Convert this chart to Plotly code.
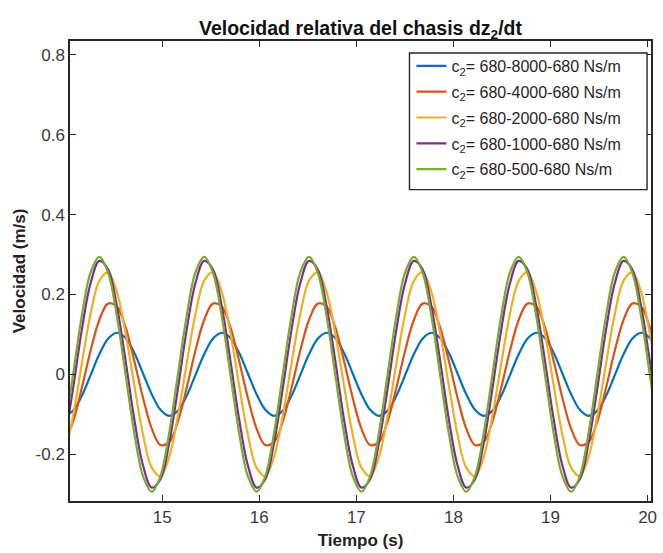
import plotly.graph_objects as go

# Sampling instants (s)
tiempo = [13.992, 14.082, 14.172, 14.262, 14.352, 14.442, 14.532, 14.622, 14.712, 14.802,
          14.892, 14.982, 15.072, 15.162, 15.252, 15.342, 15.432, 15.522, 15.612, 15.702,
          15.792, 15.882, 15.972, 16.062, 16.152, 16.242, 16.332, 16.422, 16.512, 16.602,
          16.692, 16.782, 16.872, 16.962, 17.052, 17.142, 17.232, 17.322, 17.412, 17.502,
          17.592, 17.682, 17.772, 17.862, 17.952, 18.042, 18.132, 18.222, 18.312, 18.402,
          18.492, 18.582, 18.672, 18.762, 18.852, 18.942, 19.032, 19.122, 19.212, 19.302,
          19.392, 19.482, 19.572, 19.662, 19.752, 19.842, 19.932, 20.022, 20.112]

# Chassis relative velocity (m/s) for each damping configuration
v_8000 = [-0.104, -0.091, -0.054, -0.002,
          0.050, 0.089, 0.104, 0.091, 0.054, 0.002, -0.050, -0.089, -0.104, -0.091, -0.054, -0.002,
          0.050, 0.089, 0.104, 0.091, 0.054, 0.002, -0.050, -0.089, -0.104, -0.091, -0.054, -0.002,
          0.050, 0.089, 0.104, 0.091, 0.054, 0.002, -0.050, -0.089, -0.104, -0.091, -0.054, -0.002,
          0.050, 0.089, 0.104, 0.091, 0.054, 0.002, -0.050, -0.089, -0.104, -0.091, -0.054, -0.002,
          0.050, 0.089, 0.104, 0.091, 0.054, 0.002, -0.050, -0.089, -0.104, -0.091, -0.054, -0.002,
          0.050, 0.089, 0.104, 0.091, 0.054]
v_4000 = [-0.170, -0.118, -0.034, 0.059,
          0.136, 0.177, 0.170, 0.118, 0.034, -0.059, -0.136, -0.177, -0.170, -0.118, -0.034, 0.059,
          0.136, 0.177, 0.170, 0.118, 0.034, -0.059, -0.136, -0.177, -0.170, -0.118, -0.034, 0.059,
          0.136, 0.177, 0.170, 0.118, 0.034, -0.059, -0.136, -0.177, -0.170, -0.118, -0.034, 0.059,
          0.136, 0.177, 0.170, 0.118, 0.034, -0.059, -0.136, -0.177, -0.170, -0.118, -0.034, 0.059,
          0.136, 0.177, 0.170, 0.118, 0.034, -0.059, -0.136, -0.177, -0.170, -0.118, -0.034, 0.059,
          0.136, 0.177, 0.170, 0.118, 0.034]
v_2000 = [-0.207, -0.104, 0.027, 0.151,
          0.234, 0.255, 0.207, 0.104, -0.027, -0.151, -0.234, -0.255, -0.207, -0.104, 0.027, 0.151,
          0.234, 0.255, 0.207, 0.104, -0.027, -0.151, -0.234, -0.255, -0.207, -0.104, 0.027, 0.151,
          0.234, 0.255, 0.207, 0.104, -0.027, -0.151, -0.234, -0.255, -0.207, -0.104, 0.027, 0.151,
          0.234, 0.255, 0.207, 0.104, -0.027, -0.151, -0.234, -0.255, -0.207, -0.104, 0.027, 0.151,
          0.234, 0.255, 0.207, 0.104, -0.027, -0.151, -0.234, -0.255, -0.207, -0.104, 0.027, 0.151,
          0.234, 0.255, 0.207, 0.104, -0.027]
v_1000 = [-0.172, -0.035, 0.112, 0.228,
          0.284, 0.263, 0.172, 0.035, -0.112, -0.228, -0.284, -0.263, -0.172, -0.035, 0.112, 0.228,
          0.284, 0.263, 0.172, 0.035, -0.112, -0.228, -0.284, -0.263, -0.172, -0.035, 0.112, 0.228,
          0.284, 0.263, 0.172, 0.035, -0.112, -0.228, -0.284, -0.263, -0.172, -0.035, 0.112, 0.228,
          0.284, 0.263, 0.172, 0.035, -0.112, -0.228, -0.284, -0.263, -0.172, -0.035, 0.112, 0.228,
          0.284, 0.263, 0.172, 0.035, -0.112, -0.228, -0.284, -0.263, -0.172, -0.035, 0.112, 0.228,
          0.284, 0.263, 0.172, 0.035, -0.112]
v_500 = [-0.147, 0.000, 0.147, 0.255,
         0.294, 0.255, 0.147, 0.000, -0.147, -0.255, -0.294, -0.255, -0.147, 0.000, 0.147, 0.255,
         0.294, 0.255, 0.147, 0.000, -0.147, -0.255, -0.294, -0.255, -0.147, 0.000, 0.147, 0.255,
         0.294, 0.255, 0.147, 0.000, -0.147, -0.255, -0.294, -0.255, -0.147, 0.000, 0.147, 0.255,
         0.294, 0.255, 0.147, 0.000, -0.147, -0.255, -0.294, -0.255, -0.147, 0.000, 0.147, 0.255,
         0.294, 0.255, 0.147, 0.000, -0.147, -0.255, -0.294, -0.255, -0.147, 0.000, 0.147, 0.255,
         0.294, 0.255, 0.147, 0.000, -0.147]

series_labels = ["c<sub>2</sub>= 680-8000-680 Ns/m",
                 "c<sub>2</sub>= 680-4000-680 Ns/m",
                 "c<sub>2</sub>= 680-2000-680 Ns/m",
                 "c<sub>2</sub>= 680-1000-680 Ns/m",
                 "c<sub>2</sub>= 680-500-680 Ns/m"]
series_values = [v_8000, v_4000, v_2000, v_1000, v_500]
colors = ["#0072BD", "#D95319", "#EDB120", "#7E2F8E", "#77AC30"]

x_ticks = [15, 16, 17, 18, 19, 20]
y_ticks = [-0.2, 0, 0.2, 0.4, 0.6, 0.8]
y_ticktext = ["-0.2", "0", "0.2", "0.4", "0.6", "0.8"]

FONT = "Liberation Sans, Arial, Helvetica, sans-serif"

fig = go.Figure()
for i, (name, vals, col) in enumerate(zip(series_labels, series_values, colors)):
    fig.add_trace(go.Scatter(
        x=tiempo, y=vals, mode="lines", name=name,
        legendgroup=f"g{i}",
        line=dict(color=col, width=2.2, shape="spline", smoothing=1.0),
    ))

axis_common = dict(
    showline=True, linecolor="#262626", linewidth=1.5, mirror="ticks",
    ticks="inside", ticklen=6, tickwidth=1.3, tickcolor="#262626",
    showgrid=False, zeroline=False,
    tickfont=dict(family=FONT, size=17, color="#3a3a3a"),
)

# Framed box behind the legend entries
fig.add_shape(
    type="rect", xref="paper", yref="paper",
    x0=0.5843, x1=0.9932, y0=0.6768, y1=0.974,
    fillcolor="white", line=dict(color="#262626", width=1.4), layer="above",
)

fig.update_layout(
    width=663, height=553,
    margin=dict(l=70, r=6, t=41, b=51),
    paper_bgcolor="white", plot_bgcolor="white",
    font=dict(family=FONT, color="#262626"),
    title=dict(
        text="<b>Velocidad relativa del chasis dz<sub>2</sub>/dt</b>",
        x=0.5, xref="paper", xanchor="center",
        y=1 - 28 / 553, yref="container", yanchor="middle",
        font=dict(family=FONT, size=19.5, color="#111"),
    ),
    xaxis=dict(
        range=[14.05, 20.035], tickvals=x_ticks,
        title=dict(text="<b>Tiempo (s)</b>", font=dict(family=FONT, size=17, color="#222"), standoff=8),
        **axis_common,
    ),
    yaxis=dict(
        range=[-0.3175, 0.835], tickvals=y_ticks, ticktext=y_ticktext,
        title=dict(text="<b>Velocidad (m/s)</b>", font=dict(family=FONT, size=17, color="#222"), standoff=6),
        **axis_common,
    ),
    legend=dict(
        x=0.5877, y=0.9826, xanchor="left", yanchor="top",
        bgcolor="rgba(0,0,0,0)", borderwidth=0,
        font=dict(family=FONT, size=16, color="#262626"),
        tracegroupgap=2, itemwidth=30,
    ),
    showlegend=True,
)

fig.write_html("out.html")
